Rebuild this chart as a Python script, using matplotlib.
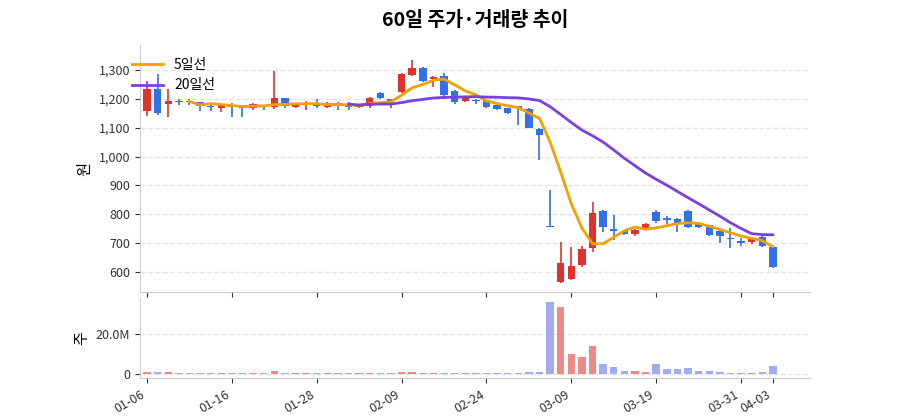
import matplotlib
matplotlib.use("Agg")
import matplotlib.pyplot as plt
import numpy as np
import pandas as pd

plt.rcParams['font.family'] = ['Noto Sans CJK KR', 'DejaVu Sans']

opens = [1159,1235,1182,1194,1192,1188,1175,1170,1176,1173,1170,1178,1171,1202,1172,1178,1186,1172,1186,1184,1172,1174,1222,1198,1224,1282,1308,1268,1279,1226,
         1191,1197,1194,1178,1169,1173,1165,1097,757,564,575,622,681,811,747,740,731,749,808,786,784,811,770,763,743,716,708,702,720,685]
closes = [1233,1150,1194,1190,1188,1174,1172,1178,1173,1170,1182,1175,1202,1176,1180,1184,1176,1186,1178,1172,1178,1204,1202,1194,1286,1308,1261,1276,1212,1188,
          1203,1191,1171,1165,1150,1170,1100,1076,755,629,620,679,805,755,742,731,745,766,778,780,770,757,755,729,723,714,699,716,690,617]
highs = [1262,1288,1235,1200,1198,1190,1178,1182,1185,1180,1186,1180,1296,1204,1182,1194,1200,1190,1188,1188,1180,1206,1224,1200,1290,1335,1310,1280,1290,1230,
         1205,1200,1196,1180,1170,1175,1167,1098,884,704,685,690,843,813,798,742,748,768,816,792,786,813,772,764,745,753,716,720,731,687]
lows = [1141,1145,1138,1180,1178,1159,1159,1155,1136,1136,1160,1162,1165,1170,1170,1160,1168,1168,1160,1160,1170,1170,1200,1170,1222,1278,1258,1240,1205,1182,
        1188,1183,1168,1160,1148,1109,1098,989,755,560,570,618,669,737,710,728,726,746,770,765,737,752,752,725,699,682,690,698,686,615]
volumes = [0.8,0.8,1.0,0.3,0.3,0.3,0.3,0.3,0.4,0.3,0.3,0.6,1.5,0.4,0.4,0.5,0.4,0.5,0.4,0.3,0.3,0.5,0.5,0.4,1.0,0.8,0.6,0.5,0.7,0.5,
           0.4,0.3,0.3,0.3,0.3,0.4,0.8,1.2,36.0,33.5,10.0,8.5,14.0,5.0,3.5,1.5,1.5,1.2,5.0,2.5,2.5,3.0,1.5,1.5,1.0,0.6,0.5,0.5,0.8,4.0]
tick_idx = [0,8,16,24,32,40,48,56,59]
tick_labels = ['01-06','01-16','01-28','02-09','02-24','03-09','03-19','03-31','04-03']

RED = '#e03131'; BLUE = '#3370e8'
fig = plt.figure(figsize=(9,4.2), dpi=100)
ax = fig.add_axes([140/900, 1-292/420, 670/900, 247/420])
axv = fig.add_axes([140/900, 1-378/420, 670/900, 80/420], sharex=ax)

x = np.arange(len(opens))
o = np.array(opens); c = np.array(closes)
up = c > o
cols = np.where(up, RED, BLUE)
ax.vlines(x, lows, highs, colors=cols, lw=1.2, zorder=2)
ax.bar(x, np.maximum(np.abs(c-o), 4), bottom=np.minimum(o, c), width=0.7, color=cols, zorder=3)
s = pd.Series(closes)
ax.plot(x, s.rolling(5).mean(), color='#f59f00', lw=2, label='5일선', zorder=4)
ax.plot(x, s.rolling(20).mean(), color='#7b3fe4', lw=2, label='20일선', zorder=4)
ax.set_ylim(530, 1387)
ax.set_yticks(range(600, 1301, 100))
ax.set_yticklabels([f'{v:,}' for v in range(600, 1301, 100)])
ax.set_ylabel('원', fontsize=11)
ax.grid(axis='y', ls='--', color='#e3e3e3', lw=1)
ax.legend(loc='upper left', frameon=False, fontsize=10, handlelength=2.2,
          bbox_to_anchor=(-0.03, 1.0))
ax.set_title('60일 주가·거래량 추이', fontsize=14, fontweight='bold', pad=14)
plt.setp(ax.get_xticklabels(), visible=False)

vcols = np.where(up, '#ec8a8a', '#a4acf0')
axv.bar(x, volumes, width=0.7, color=vcols)
axv.set_ylim(-2, 38)
axv.set_yticks([0, 20])
axv.set_yticklabels(['0', '20.0M'])
axv.set_ylabel('주', fontsize=11)
axv.grid(axis='y', ls='--', color='#e3e3e3', lw=1)
axv.set_xlim(-0.66, 62.5)
axv.set_xticks(tick_idx)
axv.set_xticklabels(tick_labels, rotation=30, ha='right', fontsize=9)

for a in (ax, axv):
    for sp in ('top', 'right'):
        a.spines[sp].set_visible(False)
    for sp in ('left', 'bottom'):
        a.spines[sp].set_color('#cccccc')
    a.tick_params(colors='#333333', labelsize=9)
    a.set_axisbelow(True)

fig.savefig('out.png', dpi=100)
